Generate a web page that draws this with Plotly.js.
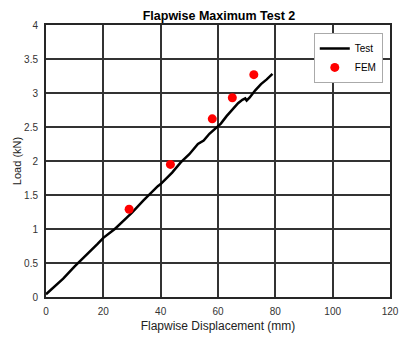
<!DOCTYPE html>
<html>
<head>
<meta charset="utf-8">
<script src="https://cdn.plot.ly/plotly-3.0.1.min.js"></script>
<style>html,body{margin:0;padding:0;background:#fff;}#chart{width:400px;height:340px;}</style>
</head>
<body>
<div id="chart"></div>
<script>
const testDisp = [0, 2, 4, 6, 10, 14, 18, 20, 24, 28, 30, 34, 38, 39, 40, 44, 47, 50, 53, 55, 57, 59, 61, 63, 65, 67, 68.5, 69.5, 70, 71, 73, 75, 77, 79];
const testLoad = [0.04, 0.12, 0.19, 0.27, 0.45, 0.61, 0.78, 0.87, 1.0, 1.16, 1.24, 1.42, 1.6, 1.63, 1.66, 1.83, 1.98, 2.1, 2.25, 2.3, 2.4, 2.47, 2.55, 2.66, 2.76, 2.85, 2.9, 2.92, 2.89, 2.93, 3.04, 3.13, 3.2, 3.28];
const femDisp = [29, 43.4, 58, 65, 72.5];
const femLoad = [1.29, 1.95, 2.62, 2.93, 3.27];
const xTicks = [0, 20, 40, 60, 80, 100, 120];
const yTicks = [0, 0.5, 1, 1.5, 2, 2.5, 3, 3.5, 4];

const FONT = 'Arial, Liberation Sans, sans-serif';
const traces = [
  {x: testDisp, y: testLoad, mode: 'lines', name: 'Test', line: {color: '#000', width: 2.5}},
  {x: femDisp, y: femLoad, mode: 'markers', name: 'FEM', marker: {color: '#ff0000', size: 9}}
];
const axisCommon = {
  showgrid: true, gridcolor: '#333', gridwidth: 2,
  showline: true, linecolor: '#262626', linewidth: 2, mirror: true,
  zeroline: false, ticks: 'outside', tickcolor: 'rgba(0,0,0,0)',
  tickfont: {family: FONT, size: 10, color: '#333'}
};
const layout = {
  width: 400, height: 340,
  margin: {l: 46, r: 10, t: 25, b: 43},
  paper_bgcolor: '#fff', plot_bgcolor: '#fff',
  title: {text: '<b>Flapwise Maximum Test 2</b>', font: {family: FONT, size: 12.5, color: '#000'}, x: 0.5475, xanchor: 'center', y: 0.953, yanchor: 'middle'},
  xaxis: Object.assign({}, axisCommon, {range: [0, 120], tickvals: xTicks, ticktext: xTicks.map(String), ticklen: 4,
    title: {text: 'Flapwise Displacement (mm)', font: {family: FONT, size: 12, color: '#222'}, standoff: 6}}),
  yaxis: Object.assign({}, axisCommon, {range: [0, 4], tickvals: yTicks, ticktext: yTicks.map(String), ticklen: 4,
    title: {text: 'Load (kN)', font: {family: FONT, size: 11, color: '#222'}, standoff: 0}}),
  showlegend: true,
  legend: {x: 0.979, xanchor: 'right', y: 0.971, yanchor: 'top', bgcolor: '#fff', bordercolor: '#aaa', borderwidth: 1,
    font: {family: FONT, size: 10, color: '#000'}, itemwidth: 30, tracegroupgap: 0}
};
Plotly.newPlot('chart', traces, layout, {displayModeBar: false, staticPlot: true});
</script>
</body>
</html>
